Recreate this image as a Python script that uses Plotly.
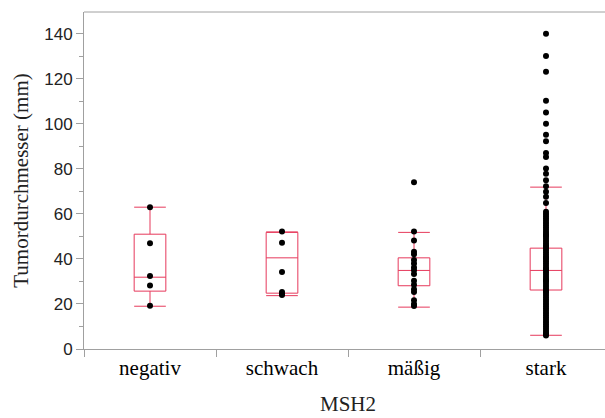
import plotly.graph_objects as go

categories = ["negativ", "schwach", "mäßig", "stark"]

# box statistics (mm)
q1 = [25.7, 24.8, 28.1, 26.2]
median = [31.9, 40.5, 34.9, 34.9]
q3 = [51.0, 51.8, 40.5, 44.8]
lowerfence = [19.0, 23.7, 18.6, 6.1]
upperfence = [63.0, 52.0, 51.8, 71.9]

# individual observations
negativ_pts = [63, 47, 32.4, 28.2, 19.2]
schwach_pts = [52.2, 47.2, 34.2, 25.3, 24.4, 24.0]
maessig_pts = [74.1, 52.2, 48.2, 43.2, 42.1, 39.5, 38, 36.2, 35, 33.3, 30.3,
               28.5, 26.5, 25.3, 21.7, 20, 19.1]
stark_pts = [6, 6.5, 7, 8, 9, 10, 11, 12, 13, 14, 15, 16, 17, 18, 19, 20, 21,
             22, 23, 24, 25, 25.5, 26, 27, 28, 29, 30, 30.5, 31, 32, 33, 34,
             35, 35.5, 36, 37, 38, 39, 40, 40.5, 41, 42, 43, 44, 45, 45.5, 46,
             47, 48, 49, 50, 50.5, 51, 52, 53, 54, 55, 56, 57, 58, 59, 60, 61,
             64.9, 67.6, 69.8, 72.3, 75, 77.9, 80.2, 85.3, 87.1, 92.3, 95.2,
             100.1, 105.1, 110.3, 123.2, 130.1, 140]

y_ticks = [0, 20, 40, 60, 80, 100, 120, 140]

red = "#e6395b"
axis_grey = "#a0a0a0"

fig = go.Figure()
fig.add_trace(go.Box(
    x=categories, q1=q1, median=median, q3=q3,
    lowerfence=lowerfence, upperfence=upperfence,
    width=0.24, whiskerwidth=1,
    line=dict(color=red, width=1), fillcolor="rgba(0,0,0,0)",
    boxpoints=False, hoverinfo="skip", showlegend=False,
))

groups = [negativ_pts, schwach_pts, maessig_pts, stark_pts]
xs, ys = [], []
for cat, pts in zip(categories, groups):
    xs += [cat] * len(pts)
    ys += pts
fig.add_trace(go.Scatter(
    x=xs, y=ys, mode="markers",
    marker=dict(color="black", size=6),
    showlegend=False, hoverinfo="skip",
))

fig.update_layout(
    width=605, height=418,
    margin=dict(l=84, r=0, t=12, b=69),
    plot_bgcolor="white", paper_bgcolor="white",
    font=dict(family="Liberation Serif", color="black"),
    xaxis=dict(
        type="category", categoryorder="array", categoryarray=categories,
        range=[-0.5, 3.447],
        showline=True, linecolor=axis_grey, linewidth=1, mirror=False,
        ticks="outside", tickson="boundaries", ticklen=7, tickcolor=axis_grey,
        tickfont=dict(family="Liberation Serif", size=21, color="black"),
        showgrid=False, zeroline=False,
    ),
    yaxis=dict(
        range=[0, 149.7],
        tickvals=y_ticks, ticktext=[str(v) for v in y_ticks],
        showline=True, linecolor=axis_grey, linewidth=1, mirror=False,
        ticks="outside", ticklen=7, tickcolor=axis_grey,
        minor=dict(dtick=10, tick0=0, ticks="outside", ticklen=4, tickcolor=axis_grey),
        tickfont=dict(family="Liberation Sans", size=17, color="#222"),
        showgrid=False, zeroline=False,
        title=dict(text="Tumordurchmesser (mm)", standoff=9,
                   font=dict(family="Liberation Serif", size=21, color="#222")),
    ),
    shapes=[dict(type="line", xref="paper", yref="paper", x0=0, x1=1, y0=1, y1=1,
                 line=dict(color=axis_grey, width=1))],
    annotations=[dict(
        text="MSH2", x=1.5, xref="x", y=-0.163, yref="paper",
        xanchor="center", yanchor="middle", showarrow=False,
        font=dict(family="Liberation Serif", size=21, color="#222"),
    )],
)

fig.write_html("out.html")
